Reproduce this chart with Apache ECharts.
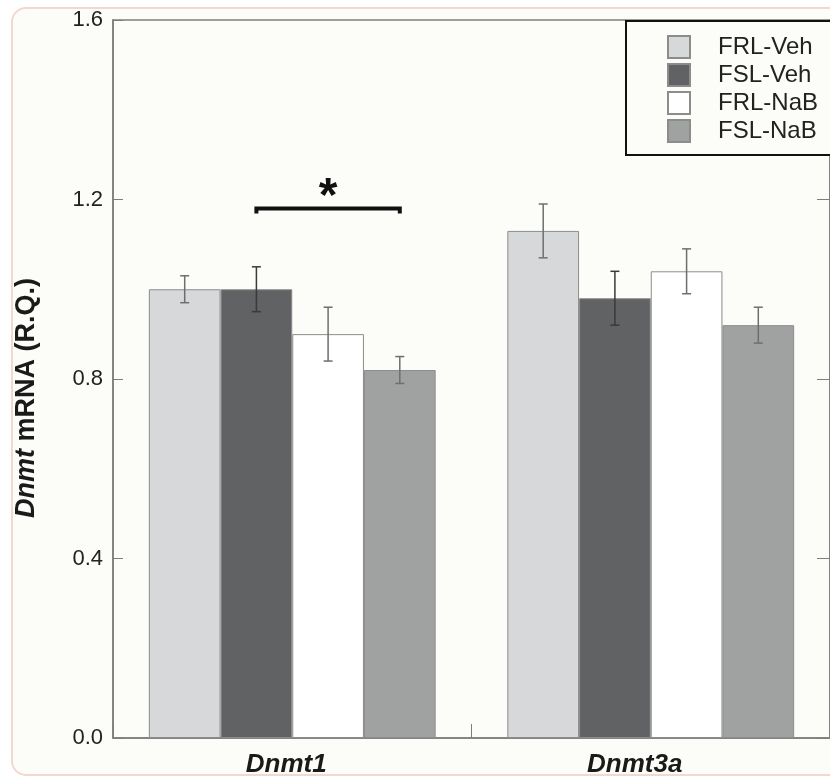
<!DOCTYPE html>
<html>
<head>
<meta charset="utf-8">
<script src="https://cdn.jsdelivr.net/npm/echarts@6/dist/echarts.min.js"></script>
<style>
  html, body { margin: 0; padding: 0; background: #ffffff; }
  #chart { width: 830px; height: 780px; }
</style>
</head>
<body>
<div id="chart"></div>
<script>
// Genes on the x axis
const categories = ['Dnmt1', 'Dnmt3a'];

// Group names (legend order)
const groupNames = ['FRL-Veh', 'FSL-Veh', 'FRL-NaB', 'FSL-NaB'];

// Mean relative quantity per gene, and the SEM
const frlVeh = [1.00, 1.13];
const frlVehErr = [0.03, 0.06];
const fslVeh = [1.00, 0.98];
const fslVehErr = [0.05, 0.06];
const frlNab = [0.90, 1.04];
const frlNabErr = [0.06, 0.05];
const fslNab = [0.82, 0.92];
const fslNabErr = [0.03, 0.04];

// Y axis ticks
const yMin = 0;
const yMax = 1.6;
const yStep = 0.4;

// Significance bracket: gene index, first and last group, height, mark
const sigCategory = [0];
const sigFrom = [1];
const sigTo = [3];
const sigLevel = [1.18];
const sigMark = ['*'];

const means = [frlVeh, fslVeh, frlNab, fslNab];
const errs = [frlVehErr, fslVehErr, frlNabErr, fslNabErr];
const colors = ['#d7d8d9', '#616263', '#ffffff', '#a0a1a1'];

const CAT_GAP = 0.2;   // share of a category band left empty
const NGROUP = groupNames.length;

// x centre of bar `g` within category `c`
function barCenter(api, c, v, g) {
  const band = api.size([1, 0])[0];
  const bw = band * (1 - CAT_GAP) / NGROUP;
  const cx = api.coord([c, v])[0];
  return cx - band * (1 - CAT_GAP) / 2 + bw * (g + 0.5);
}

const barSeries = groupNames.map((name, g) => ({
  name: name,
  type: 'bar',
  data: means[g],
  barGap: '0%',
  barCategoryGap: (CAT_GAP * 100) + '%',
  itemStyle: { color: colors[g], borderColor: '#8c8c8c', borderWidth: 1 },
  emphasis: { disabled: true },
  z: 2
}));

const errorSeries = groupNames.map((name, g) => ({
  type: 'custom',
  silent: true,
  z: 5,
  data: categories.map((c, i) => [i, means[g][i], errs[g][i]]),
  renderItem: function (params, api) {
    const c = api.value(0), m = api.value(1), e = api.value(2);
    const x = barCenter(api, c, m, g);
    const yHi = api.coord([c, m + e])[1];
    const yLo = api.coord([c, m - e])[1];
    const cap = 4.5;
    const st = { stroke: g === 1 ? '#3a3a3a' : '#6e6e6e', lineWidth: 1.5 };
    return {
      type: 'group',
      children: [
        { type: 'line', shape: { x1: x, y1: yHi, x2: x, y2: yLo }, style: st },
        { type: 'line', shape: { x1: x - cap, y1: yHi, x2: x + cap, y2: yHi }, style: st },
        { type: 'line', shape: { x1: x - cap, y1: yLo, x2: x + cap, y2: yLo }, style: st }
      ]
    };
  }
}));

const sigSeries = {
  type: 'custom',
  silent: true,
  z: 6,
  data: sigCategory.map((c, i) => [c, sigLevel[i], sigFrom[i], sigTo[i]]),
  renderItem: function (params, api) {
    const c = api.value(0), lvl = api.value(1);
    const x1 = barCenter(api, c, lvl, api.value(2));
    const x2 = barCenter(api, c, lvl, api.value(3));
    const y = api.coord([c, lvl])[1];
    return {
      type: 'group',
      children: [
        {
          type: 'polyline',
          shape: { points: [[x1, y + 5], [x1, y], [x2, y], [x2, y + 5]] },
          style: { stroke: '#111111', lineWidth: 4, fill: null }
        },
        {
          type: 'text',
          style: {
            x: (x1 + x2) / 2, y: y + 13,
            text: sigMark[params.dataIndex],
            fill: '#111111',
            font: 'bold 48px "Liberation Sans", Arial, sans-serif',
            align: 'center', verticalAlign: 'bottom'
          }
        }
      ]
    };
  }
};

const axisGray = '#7d7d7d';
const font = '"Liberation Sans", Arial, sans-serif';
const catLabelStyle = {
  fontSize: 26, fontWeight: 'bold', fontStyle: 'italic',
  color: '#1a1a1a', fontFamily: font
};

const chart = echarts.init(document.getElementById('chart'), null, { renderer: 'canvas' });
chart.setOption({
  animation: false,
  backgroundColor: '#ffffff',
  textStyle: { fontFamily: font },
  graphic: [{
    type: 'rect',
    z: -100,
    silent: true,
    shape: { x: 12, y: 8, width: 850, height: 767, r: 14 },
    style: { fill: '#fcfcf8', stroke: '#f3d8cd', lineWidth: 2 }
  }],
  grid: {
    left: 113, right: -1, top: 20, bottom: 42,
    show: true, borderColor: axisGray, borderWidth: 1.5,
    backgroundColor: 'transparent'
  },
  legend: {
    orient: 'vertical',
    left: 626, top: 21,
    data: groupNames,
    itemWidth: 22, itemHeight: 22, itemGap: 4,
    padding: [14, 15, 12, 41],
    borderColor: '#111111', borderWidth: 2,
    backgroundColor: '#fcfcf8',
    icon: 'rect',
    selectedMode: false,
    textStyle: { fontSize: 24, color: '#222222', fontFamily: font, padding: [0, 0, 0, 23] }
  },
  xAxis: {
    type: 'category',
    data: categories,
    axisLine: { lineStyle: { color: axisGray, width: 1.5 } },
    axisTick: { show: true, inside: true, length: 14, lineStyle: { color: axisGray } },
    axisLabel: {
      margin: 14,
      formatter: (v, i) => '{c' + i + '|' + v + '}',
      rich: {
        c0: Object.assign({ padding: [0, 12, 0, 0] }, catLabelStyle),
        c1: Object.assign({ padding: [0, 32, 0, 0] }, catLabelStyle)
      }
    }
  },
  yAxis: [{
    type: 'value',
    min: yMin, max: yMax, interval: yStep,
    name: '{i|Dnmt} mRNA (R.Q.)',
    nameLocation: 'middle',
    nameRotate: 90,
    nameGap: 73,
    nameTextStyle: {
      fontSize: 27, fontWeight: 'bold', color: '#1a1a1a', fontFamily: font,
      padding: [0, 38, 0, 0],
      rich: { i: { fontSize: 27, fontWeight: 'bold', fontStyle: 'italic', color: '#1a1a1a', fontFamily: font } }
    },
    splitLine: { show: false },
    axisLine: { show: true, lineStyle: { color: axisGray, width: 1.5 } },
    axisTick: { show: true, inside: true, length: 10, lineStyle: { color: axisGray } },
    axisLabel: {
      fontSize: 22, color: '#222222', margin: 10, fontFamily: font,
      formatter: v => v.toFixed(1)
    }
  }, {
    type: 'value',
    position: 'right',
    min: yMin, max: yMax, interval: yStep,
    splitLine: { show: false },
    axisLine: { show: true, lineStyle: { color: axisGray, width: 1.5 } },
    axisTick: { show: true, inside: true, length: 13, lineStyle: { color: axisGray } },
    axisLabel: { show: false }
  }],
  series: [...barSeries, ...errorSeries, sigSeries]
});
</script>
</body>
</html>
